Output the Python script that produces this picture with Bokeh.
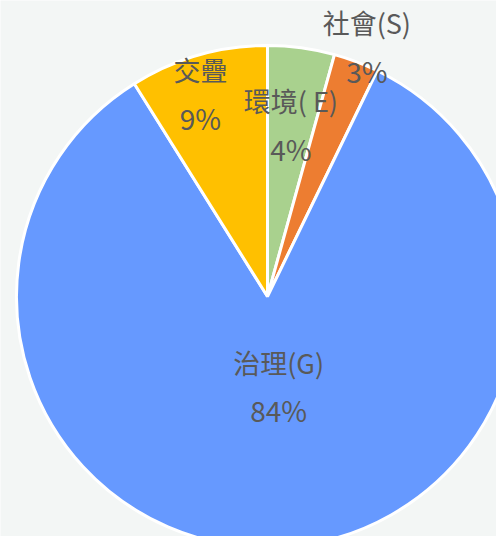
import math
from bokeh.plotting import figure
from bokeh.models import Range1d, ColumnDataSource
from bokeh.core.properties import value
from bokeh.embed import file_html
from bokeh.resources import INLINE

# data (clockwise from 12 o'clock)
categories = ["環境( E)", "社會(S)", "治理(G)", "交疊"]
shares = [4.3, 2.9, 83.9, 8.9]
pct_labels = ["4%", "3%", "84%", "9%"]
colors = ["#A9D18E", "#ED7D31", "#6699FF", "#FFC000"]

# styles / layout
W, H = 496, 536
CX, CY, R = 267, 240, 251
label_r = [0.69, 1.07, 0.36, 0.85]
label_da = [0.0, 1.0, -4.0, -2.3]  # degrees tweak
bg = "#F3F6F5"
txt = "#595959"
font = "Noto Sans CJK TC"

total = sum(shares)
starts, ends, lx, ly = [], [], [], []
cum = 0.0
for i, s in enumerate(shares):
    a0 = cum / total * 2 * math.pi
    cum += s
    a1 = cum / total * 2 * math.pi
    starts.append(math.pi / 2 - a1)
    ends.append(math.pi / 2 - a0)
    mid = (a0 + a1) / 2 + math.radians(label_da[i])
    lx.append(CX + label_r[i] * R * math.sin(mid))
    ly.append(CY + label_r[i] * R * math.cos(mid))

src = ColumnDataSource(dict(
    x=[CX] * 4, y=[CY] * 4, start=starts, end=ends, color=colors,
    lx=lx, ly_name=[v + 24 for v in ly], ly_pct=[v - 24 for v in ly],
    name=categories, pct=pct_labels,
))

p = figure(width=W, height=H, output_backend="svg", toolbar_location=None,
           x_range=Range1d(0, W), y_range=Range1d(0, H), min_border=0)
p.axis.visible = False
p.grid.visible = False
p.outline_line_color = None
p.background_fill_color = bg
p.border_fill_color = bg

p.wedge(x="x", y="y", radius=R, start_angle="start", end_angle="end",
        fill_color="color", line_color="white", line_width=3, source=src)

p.text(x="lx", y="ly_name", text="name", source=src, text_align="center",
       text_baseline="middle", text_font=value(font), text_font_size="27px",
       text_color=txt)
p.text(x="lx", y="ly_pct", text="pct", source=src, text_align="center",
       text_baseline="middle", text_font=value(font), text_font_size="28px",
       text_color=txt)

open("out.html", "w").write(file_html(p, INLINE))
